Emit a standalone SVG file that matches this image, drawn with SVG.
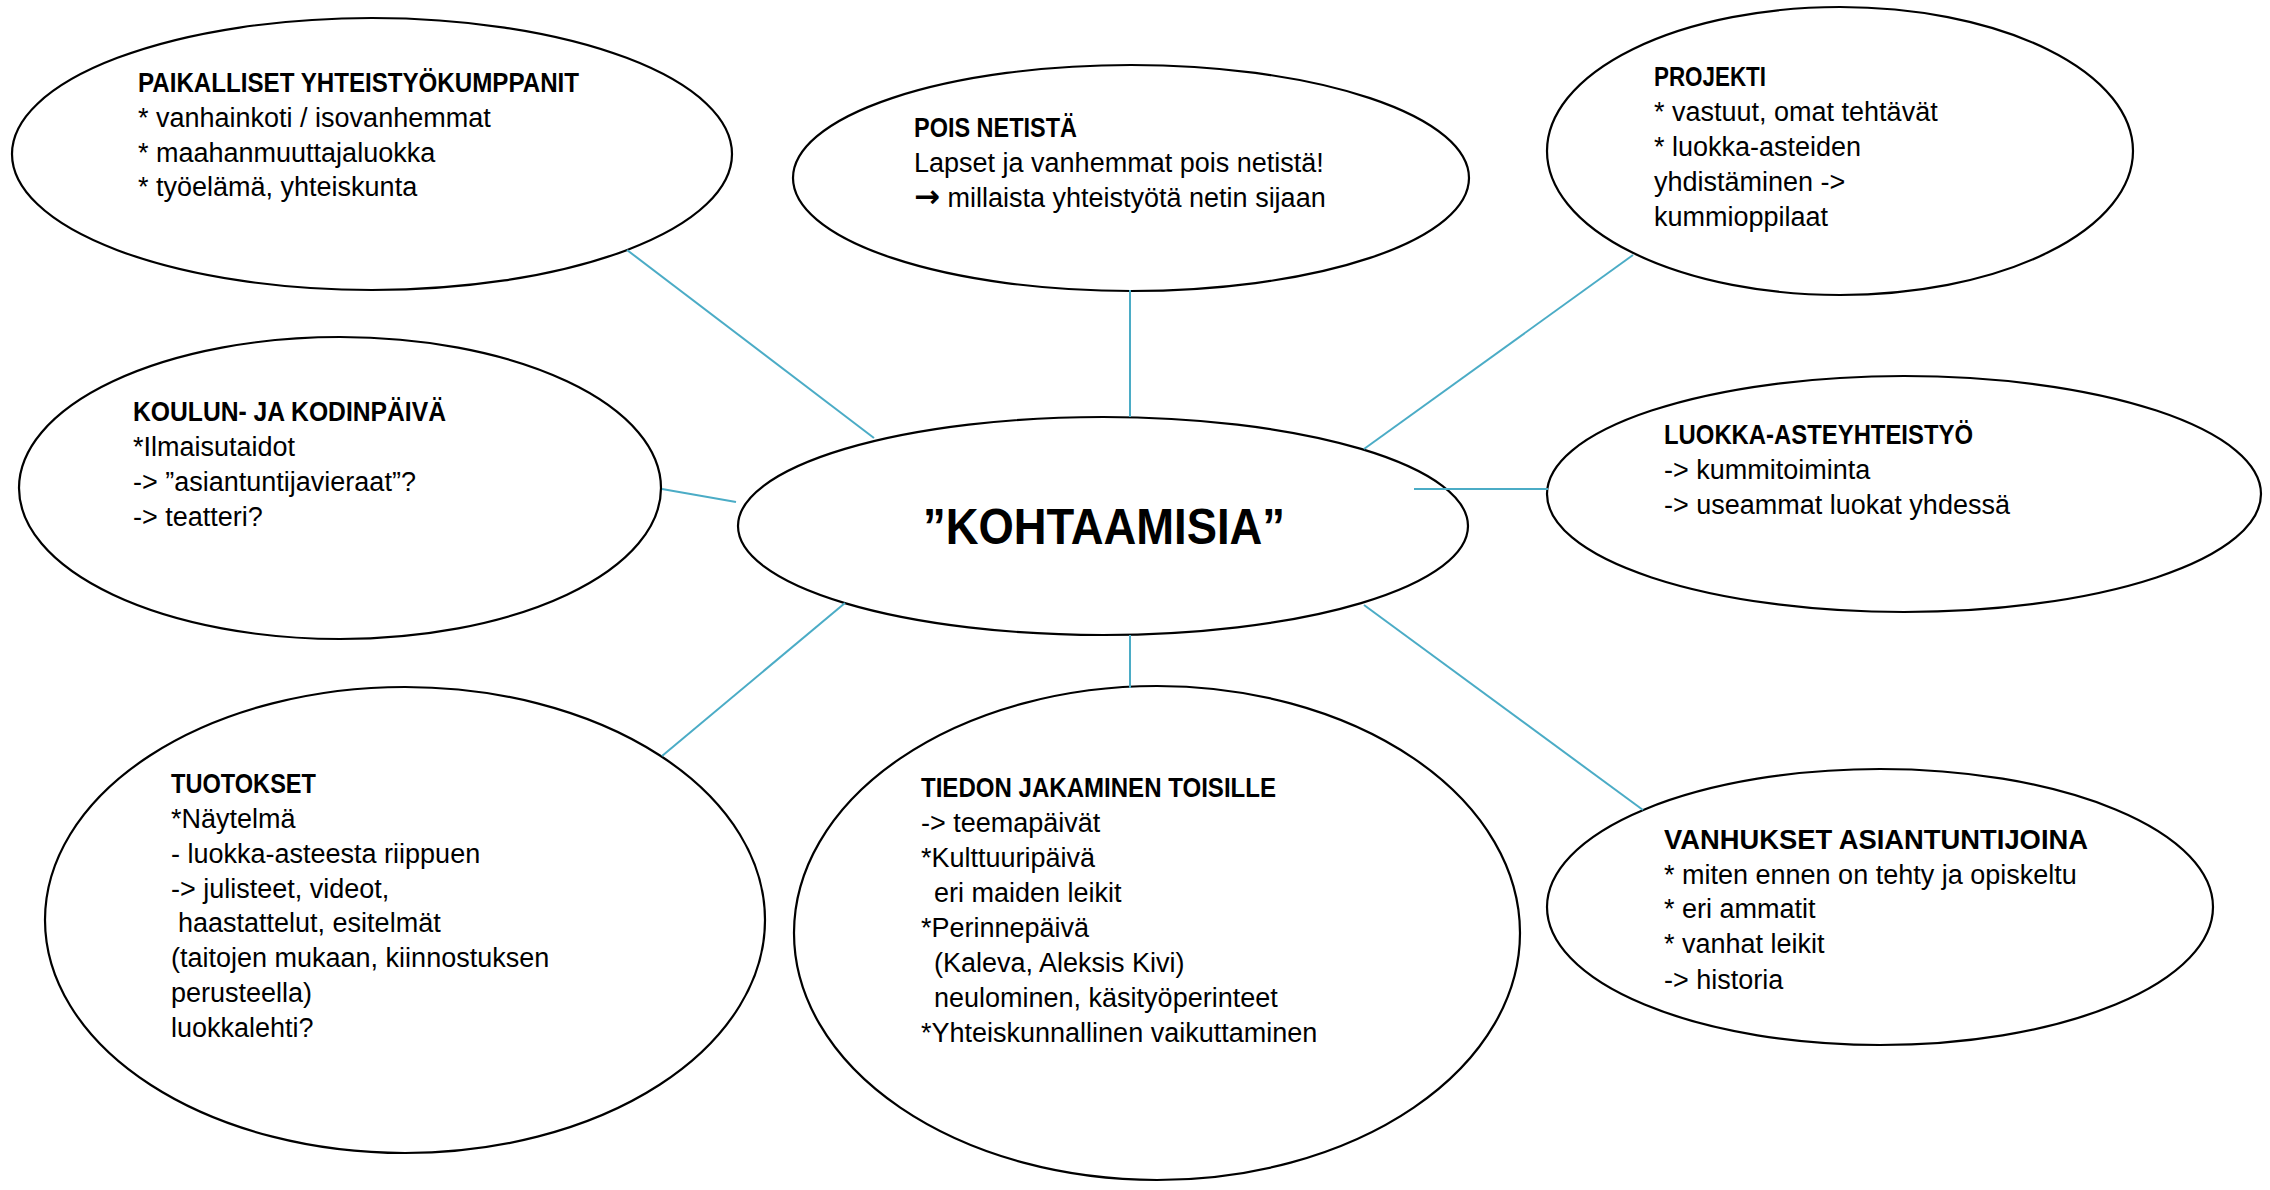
<svg xmlns="http://www.w3.org/2000/svg" width="2270" height="1190" viewBox="0 0 2270 1190">
<style>
.bg{fill:#fff}
.n ellipse{fill:#fff;stroke:#000;stroke-width:2.2}
.n text{font-family:"Liberation Sans",Arial,sans-serif;font-size:27px;fill:#000}
.n text.h{font-weight:bold}
.n tspan.arr{font-family:"DejaVu Sans",sans-serif;font-size:31px;font-weight:bold}
.c line{stroke:#4BACC6;stroke-width:2}
</style>
<rect class="bg" x="0" y="0" width="2270" height="1190"/>
<g id="n-paikalliset" class="n">
<ellipse cx="372" cy="154" rx="360" ry="136"/>
<text class="h" x="138" y="92" textLength="441" lengthAdjust="spacingAndGlyphs">PAIKALLISET YHTEISTYÖKUMPPANIT</text>
<text x="138" y="127">* vanhainkoti / isovanhemmat</text>
<text x="138" y="162">* maahanmuuttajaluokka</text>
<text x="138" y="196">* työelämä, yhteiskunta</text>
</g>
<g id="n-pois" class="n">
<ellipse cx="1131" cy="178" rx="338" ry="113"/>
<text class="h" x="914" y="137" textLength="163" lengthAdjust="spacingAndGlyphs">POIS NETISTÄ</text>
<text x="914" y="172">Lapset ja vanhemmat pois netistä!</text>
<text x="914" y="207"><tspan class="arr">→</tspan> millaista yhteistyötä netin sijaan</text>
</g>
<g id="n-projekti" class="n">
<ellipse cx="1840" cy="151" rx="293" ry="144"/>
<text class="h" x="1654" y="86" textLength="112" lengthAdjust="spacingAndGlyphs">PROJEKTI</text>
<text x="1654" y="121">* vastuut, omat tehtävät</text>
<text x="1654" y="156">* luokka-asteiden</text>
<text x="1654" y="191">yhdistäminen -&gt;</text>
<text x="1654" y="226">kummioppilaat</text>
</g>
<g id="n-koulun" class="n">
<ellipse cx="340" cy="488" rx="321" ry="151"/>
<text class="h" x="133" y="421" textLength="313" lengthAdjust="spacingAndGlyphs">KOULUN- JA KODINPÄIVÄ</text>
<text x="133" y="456">*Ilmaisutaidot</text>
<text x="133" y="491">-&gt; ”asiantuntijavieraat”?</text>
<text x="133" y="526">-&gt; teatteri?</text>
</g>
<g id="n-luokka" class="n">
<ellipse cx="1904" cy="494" rx="357" ry="118"/>
<text class="h" x="1664" y="444" textLength="309" lengthAdjust="spacingAndGlyphs">LUOKKA-ASTEYHTEISTYÖ</text>
<text x="1664" y="479">-&gt; kummitoiminta</text>
<text x="1664" y="514">-&gt; useammat luokat yhdessä</text>
</g>
<g id="n-center" class="n">
<ellipse cx="1103" cy="526" rx="365" ry="109"/>
<text class="h" x="1104" y="544" text-anchor="middle" style="font-size:50px" textLength="362" lengthAdjust="spacingAndGlyphs">”KOHTAAMISIA”</text>
</g>
<g id="n-tuotokset" class="n">
<ellipse cx="405" cy="920" rx="360" ry="233"/>
<text class="h" x="171" y="793" textLength="145" lengthAdjust="spacingAndGlyphs">TUOTOKSET</text>
<text x="171" y="828">*Näytelmä</text>
<text x="171" y="863">- luokka-asteesta riippuen</text>
<text x="171" y="898">-&gt; julisteet, videot,</text>
<text x="178" y="932">haastattelut, esitelmät</text>
<text x="171" y="967">(taitojen mukaan, kiinnostuksen</text>
<text x="171" y="1002">perusteella)</text>
<text x="171" y="1037">luokkalehti?</text>
</g>
<g id="n-tiedon" class="n">
<ellipse cx="1157" cy="933" rx="363" ry="247"/>
<text class="h" x="921" y="797" textLength="355" lengthAdjust="spacingAndGlyphs">TIEDON JAKAMINEN TOISILLE</text>
<text x="921" y="832">-&gt; teemapäivät</text>
<text x="921" y="867">*Kulttuuripäivä</text>
<text x="934" y="902">eri maiden leikit</text>
<text x="921" y="937">*Perinnepäivä</text>
<text x="934" y="972">(Kaleva, Aleksis Kivi)</text>
<text x="934" y="1007">neulominen, käsityöperinteet</text>
<text x="921" y="1042">*Yhteiskunnallinen vaikuttaminen</text>
</g>
<g id="n-vanhukset" class="n">
<ellipse cx="1880" cy="907" rx="333" ry="138"/>
<text class="h" x="1664" y="849" textLength="424" lengthAdjust="spacingAndGlyphs">VANHUKSET ASIANTUNTIJOINA</text>
<text x="1664" y="884">* miten ennen on tehty ja opiskeltu</text>
<text x="1664" y="918">* eri ammatit</text>
<text x="1664" y="953">* vanhat leikit</text>
<text x="1664" y="989">-&gt; historia</text>
</g>
<g id="connectors" class="c">
<line x1="627" y1="250" x2="874" y2="438"/>
<line x1="1130" y1="290" x2="1130" y2="417"/>
<line x1="1633" y1="255" x2="1364" y2="449"/>
<line x1="662" y1="489" x2="736" y2="502"/>
<line x1="1414" y1="489" x2="1548" y2="489"/>
<line x1="845" y1="603" x2="662" y2="756"/>
<line x1="1130" y1="635" x2="1130" y2="688"/>
<line x1="1364" y1="605" x2="1643" y2="810"/>
</g>
</svg>
